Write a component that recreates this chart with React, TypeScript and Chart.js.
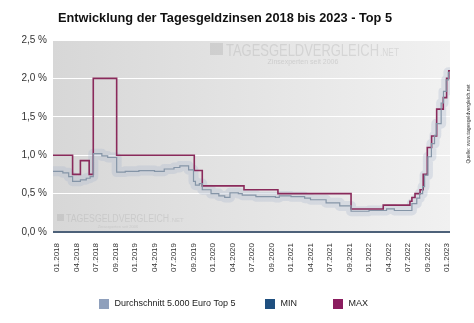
import { useEffect, useRef } from 'react';
import { Chart, registerables } from 'chart.js';

Chart.register(...registerables);

const title = 'Entwicklung der Tagesgeldzinsen 2018 bis 2023 - Top 5';
const tickLabels = ['01.2018', '04.2018', '07.2018', '09.2018', '01.2019', '04.2019', '07.2019', '09.2019', '01.2020', '04.2020', '07.2020', '09.2020', '01.2021', '04.2021', '07.2021', '09.2021', '01.2022', '04.2022', '07.2022', '09.2022', '01.2023'];
const yTicks = [0, 0.5, 1.0, 1.5, 2.0, 2.5];

const legendNames = ['Durchschnitt 5.000 Euro Top 5', 'MIN', 'MAX'];
const legendColors = ['#8fa0bc', '#1f4f7f', '#8b1d5f'];

// x = position on the label axis (0 = 01.2018 ... 20 = 01.2023), value applies from x until the next x
const maxX = [-0.205, 0.8, 1.2, 1.65, 1.86, 3.06, 7.04, 7.45, 9.59, 11.33, 15.08, 16.73, 18.1, 18.2, 18.36, 18.62, 18.78, 18.99, 19.21, 19.47, 19.81, 19.98, 20.09, 20.154];
const maxY = [1.0, 0.75, 0.93, 0.75, 2.0, 1.0, 0.8, 0.6, 0.55, 0.5, 0.3, 0.35, 0.4, 0.45, 0.5, 0.55, 0.75, 1.1, 1.25, 1.6, 1.75, 2.0, 2.1, 2.1];

const avgX = [-0.205, 0.3, 0.6, 0.8, 1.2, 1.5, 1.7, 1.86, 2.3, 2.6, 3.06, 3.5, 4.2, 5.0, 5.5, 6.0, 6.3, 6.75, 7.0, 7.1, 7.3, 7.45, 7.9, 8.3, 8.6, 8.87, 9.3, 9.5, 10.2, 11.2, 11.4, 12.0, 12.7, 13.0, 13.8, 14.5, 15.08, 16.0, 16.7, 16.9, 17.3, 18.2, 18.45, 18.6, 18.75, 18.85, 19.02, 19.2, 19.36, 19.45, 19.7, 19.82, 19.96, 20.07, 20.154];
const avgY = [0.79, 0.77, 0.72, 0.66, 0.68, 0.70, 0.72, 1.02, 0.99, 0.97, 0.78, 0.79, 0.80, 0.79, 0.82, 0.84, 0.86, 0.81, 0.66, 0.61, 0.63, 0.55, 0.50, 0.47, 0.45, 0.51, 0.50, 0.48, 0.46, 0.45, 0.47, 0.46, 0.44, 0.42, 0.38, 0.34, 0.27, 0.28, 0.28, 0.30, 0.28, 0.37, 0.44, 0.50, 0.59, 0.74, 0.98, 1.15, 1.26, 1.41, 1.68, 1.83, 1.98, 2.08, 2.08];

const minX = [-0.205, 20.154];
const minY = [0, 0];

const toPoints = (xs: number[], ys: number[]) => xs.map((x, i) => ({ x, y: ys[i] }));

const FONT = "'Liberation Sans', Arial, sans-serif";

const bgPlugin = {
  id: 'bgPlugin',
  beforeDraw(chart: any) {
    const { ctx, chartArea: a } = chart;
    ctx.save();
    const g = ctx.createLinearGradient(a.left, 0, a.right, 0);
    g.addColorStop(0, '#d7d7d7');
    g.addColorStop(1, '#f1f1f1');
    ctx.fillStyle = g;
    ctx.fillRect(a.left, a.top, a.right - a.left, a.bottom - a.top);

    // watermark top
    ctx.fillStyle = 'rgba(150,150,150,0.25)';
    ctx.fillRect(210, 43, 13, 12);
    ctx.font = `17px ${FONT}`;
    ctx.textBaseline = 'alphabetic';
    ctx.textAlign = 'left';
    ctx.fillText('TAGESGELDVERGLEICH', 226, 56, 153);
    ctx.font = `10px ${FONT}`;
    ctx.fillText('.NET', 380, 56, 19);
    ctx.font = `7px ${FONT}`;
    ctx.fillStyle = 'rgba(150,150,150,0.3)';
    ctx.textAlign = 'center';
    ctx.fillText('Zinsexperten seit 2006', 303, 64);

    // watermark bottom-left
    ctx.fillStyle = 'rgba(150,150,150,0.25)';
    ctx.fillRect(57, 214, 7, 7);
    ctx.textAlign = 'left';
    ctx.font = `10px ${FONT}`;
    ctx.fillText('TAGESGELDVERGLEICH', 66, 222, 103);
    ctx.font = `6px ${FONT}`;
    ctx.fillText('.NET', 170, 222);
    ctx.font = `4px ${FONT}`;
    ctx.textAlign = 'center';
    ctx.fillText('Zinsexperten seit 2006', 118, 228);
    ctx.restore();
  },
  afterDraw(chart: any) {
    const { ctx } = chart;
    ctx.save();
    ctx.translate(469, 124);
    ctx.rotate(-Math.PI / 2);
    ctx.font = `5px ${FONT}`;
    ctx.fillStyle = '#333';
    ctx.textAlign = 'center';
    ctx.textBaseline = 'middle';
    ctx.fillText('Quelle: www.tagesgeldvergleich.net', 0, 0);
    ctx.restore();

    // legend
    const boxX = [99, 265, 333];
    ctx.save();
    ctx.font = `9px ${FONT}`;
    ctx.textBaseline = 'middle';
    ctx.textAlign = 'left';
    legendNames.forEach((name, i) => {
      ctx.fillStyle = legendColors[i];
      ctx.fillRect(boxX[i], 299, 10, 10);
      ctx.fillStyle = '#222';
      ctx.fillText(name, boxX[i] + 15.5, 304);
    });
    ctx.restore();
  },
};

export default function App() {
  const ref = useRef<HTMLCanvasElement>(null);
  useEffect(() => {
    document.body.style.margin = '0';
    const chart = new Chart(ref.current!, {
      type: 'line',
      data: {
        datasets: [
          {
            label: legendNames[0],
            data: toPoints(avgX, avgY),
            stepped: 'before',
            borderColor: '#8595a7',
            backgroundColor: legendColors[0],
            borderWidth: 1.2,
            pointRadius: 0,
            fill: false,
          },
          {
            label: legendNames[1],
            data: toPoints(minX, minY),
            borderColor: '#4d6179',
            backgroundColor: legendColors[1],
            borderWidth: 2,
            pointRadius: 0,
            fill: false,
            clip: false as any,
          },
          {
            label: legendNames[2],
            data: toPoints(maxX, maxY),
            stepped: 'before',
            borderColor: '#8a2a5b',
            backgroundColor: legendColors[2],
            borderWidth: 1.6,
            pointRadius: 0,
            fill: false,
          },
          {
            label: 'band',
            data: toPoints(avgX, avgY),
            stepped: 'before',
            borderColor: 'rgba(170,185,205,0.32)',
            borderWidth: 10,
            borderJoinStyle: 'round',
            borderCapStyle: 'round',
            pointRadius: 0,
            fill: false,
          },
        ],
      },
      options: {
        responsive: false,
        animation: false,
        devicePixelRatio: 1,
        layout: { padding: { left: 0, right: 24, top: 0, bottom: 4 } },
        plugins: {
          title: {
            display: true,
            text: title,
            color: '#111',
            font: { family: FONT, size: 12.75, weight: 'bold' },
            padding: { top: 11, bottom: 13.7 },
          },
          legend: { display: false },
          tooltip: { enabled: false },
        },
        scales: {
          x: {
            type: 'linear',
            min: -0.205,
            max: 20.154,
            grid: { display: false, drawTicks: false },
            border: { display: false },
            afterBuildTicks: (scale: any) => {
              scale.ticks = tickLabels.map((_, i) => ({ value: i }));
            },
            afterFit: (scale: any) => {
              scale.height = 87;
            },
            ticks: {
              autoSkip: false,
              maxRotation: 90,
              minRotation: 90,
              padding: 11,
              color: '#333',
              font: { family: FONT, size: 8 },
              callback: (v: any) => tickLabels[Math.round(v)] ?? '',
            },
          },
          y: {
            min: 0,
            max: 2.5,
            grid: { color: '#ffffff', lineWidth: 1, drawTicks: false },
            border: { display: false },
            afterBuildTicks: (scale: any) => {
              scale.ticks = yTicks.map((v) => ({ value: v }));
            },
            afterFit: (scale: any) => {
              scale.width = 53;
            },
            ticks: {
              padding: 6,
              color: '#333',
              font: { family: FONT, size: 10 },
              callback: (v: any) => Number(v).toFixed(1).replace('.', ',') + ' %',
            },
          },
        },
      },
      plugins: [bgPlugin],
    });
    return () => chart.destroy();
  }, []);
  return (
    <div style={{ width: 474, height: 323, background: '#fff' }}>
      <canvas ref={ref} width={474} height={323} />
    </div>
  );
}
